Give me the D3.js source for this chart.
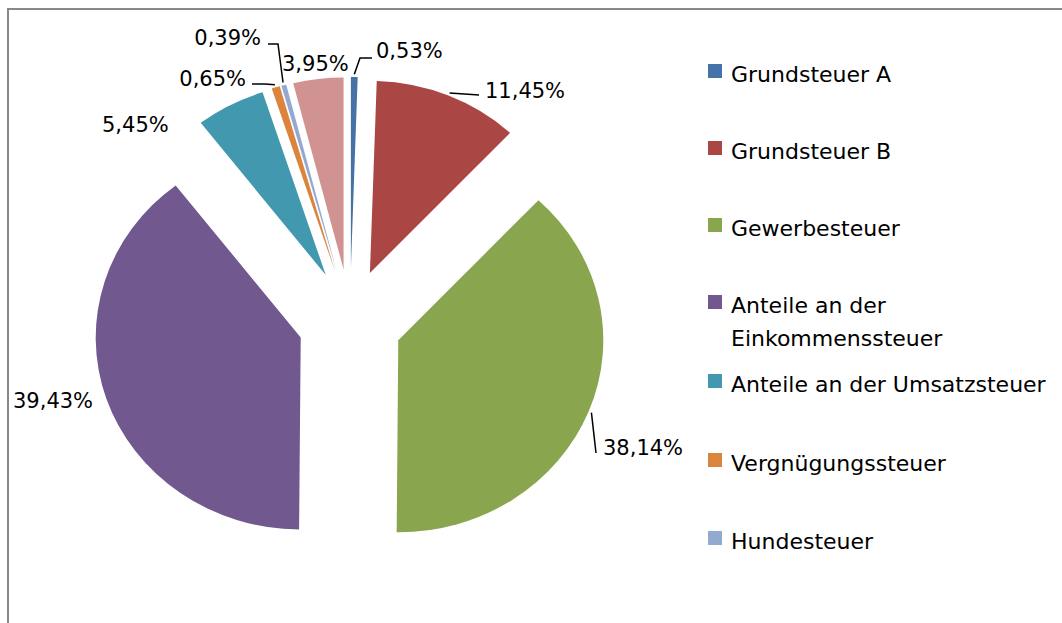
<!DOCTYPE html>
<html>
<head>
<meta charset="utf-8">
<script src="https://cdn.jsdelivr.net/npm/d3@7"></script>
<style>
  body { margin: 0; background: #fff; }
  text { font-family: "DejaVu Sans", sans-serif; fill: #000; }
</style>
</head>
<body>
<div id="chart"></div>
<script>
// Einnahmen nach Steuerart (Anteil in %)
var categories = [
    "Grundsteuer A",
    "Grundsteuer B",
    "Gewerbesteuer",
    "Anteile an der Einkommenssteuer",
    "Anteile an der Umsatzsteuer",
    "Vergnügungssteuer",
    "Hundesteuer",
    "Sonstige"
];
var values = [0.53, 11.45, 38.14, 39.43, 5.45, 0.65, 0.39, 3.95];
var valueLabels = ["0,53%", "11,45%", "38,14%", "39,43%", "5,45%", "0,65%", "0,39%", "3,95%"];
// legend only shows the first seven entries (the last one is cut off)
var legendLines = [
    ["Grundsteuer A"],
    ["Grundsteuer B"],
    ["Gewerbesteuer"],
    ["Anteile an der", "Einkommenssteuer"],
    ["Anteile an der Umsatzsteuer"],
    ["Vergnügungssteuer"],
    ["Hundesteuer"]
];
var colors = ["#4572a7", "#aa4643", "#89a54e", "#71588f", "#4198af", "#db843d", "#93a9cf", "#d19392"];

var width = 1062, height = 623;
var cx = 350, cy = 321;
var rx = 205, ry = 192;
var explode = 52;
var k = ry / rx;

// where each percentage label goes; elbow = bend of the leader line
var labelLayout = [
    { x: 376, y: 58, anchor: "start", elbow: [[360, 58], [372, 58]] },
    { x: 485, y: 98, anchor: "start", elbow: [[479, 95]] },
    { x: 603, y: 455, anchor: "start", elbow: [[596, 453]] },
    { x: 13, y: 408, anchor: "start", elbow: null },
    { x: 102, y: 132, anchor: "start", elbow: null },
    { x: 246, y: 86, anchor: "end", elbow: [[265, 84], [252, 84]] },
    { x: 261, y: 45, anchor: "end", elbow: [[278, 44], [268, 44]] },
    { x: 282, y: 71, anchor: "start", elbow: null }
];

var svg = d3
    .select("#chart")
    .append("svg")
    .attr("width", width)
    .attr("height", height);

// chart frame (only left and top edge are visible)
svg.append("path")
    .attr("d", "M8," + height + " L8,9 L" + width + ",9")
    .attr("fill", "none")
    .attr("stroke", "#888")
    .attr("stroke-width", 2);

var pie = d3.pie().sort(null).value((d) => d)(values);
var arc = d3.arc().innerRadius(0).outerRadius(rx);

function midAngle(d) {
    return (d.startAngle + d.endAngle) / 2;
}

svg.selectAll(".slice")
    .data(pie)
    .enter()
    .append("path")
    .attr("class", "slice")
    .attr("fill", (d, i) => colors[i])
    .attr("transform", (d) => {
        var a = midAngle(d);
        var tx = cx + Math.sin(a) * explode;
        var ty = cy - Math.cos(a) * explode;
        return "translate(" + tx + "," + ty + ") scale(1," + k + ")";
    })
    .attr("d", arc);

// point just outside the slice's outer edge, in page coordinates
function outerPoint(d, extra) {
    var a = midAngle(d);
    var ox = Math.sin(a) * (explode + rx + extra);
    var oy = -Math.cos(a) * (explode + (rx + extra) * k);
    return [cx + ox, cy + oy];
}

var lineGen = d3.line();
pie.forEach((d, i) => {
    var lay = labelLayout[i];
    if (lay.elbow) {
        var pts = [outerPoint(d, 3)].concat(lay.elbow);
        svg.append("path")
            .attr("d", lineGen(pts))
            .attr("fill", "none")
            .attr("stroke", "#000")
            .attr("stroke-width", 1.5);
    }
    svg.append("text")
        .attr("x", lay.x)
        .attr("y", lay.y)
        .attr("text-anchor", lay.anchor)
        .style("font-size", "21px")
        .text(valueLabels[i]);
});

// legend
var legendY = [82, 159, 236, 313, 392, 471, 549];
var legend = svg.selectAll(".legend")
    .data(legendLines)
    .enter()
    .append("g")
    .attr("class", "legend");

legend.append("rect")
    .attr("x", 708)
    .attr("y", (d, i) => legendY[i] - 18)
    .attr("width", 14)
    .attr("height", 14)
    .attr("fill", (d, i) => colors[i]);

legend.each(function (lines, i) {
    var t = d3.select(this).append("text")
        .attr("x", 731)
        .attr("y", legendY[i])
        .style("font-size", "22px");
    lines.forEach((l, j) => {
        t.append("tspan")
            .attr("x", 731)
            .attr("dy", j === 0 ? 0 : 33)
            .text(l);
    });
});
</script>
</body>
</html>
